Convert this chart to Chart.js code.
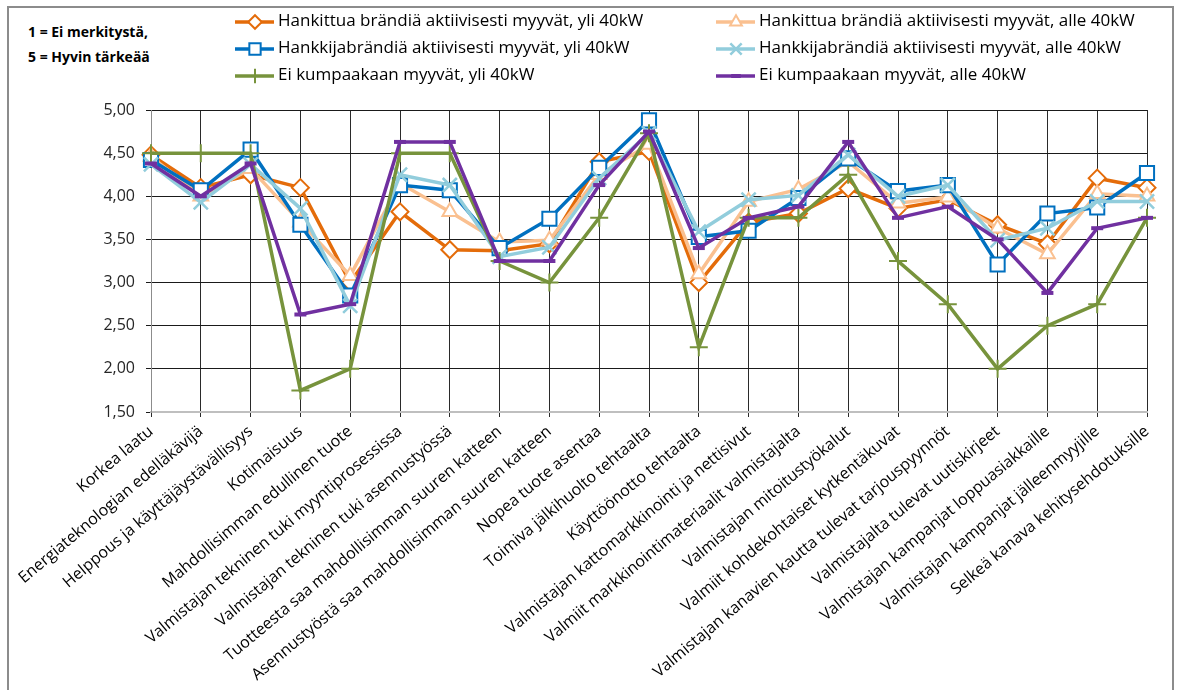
<!DOCTYPE html>
<html>
<head>
<meta charset="utf-8">
<script src="https://cdn.jsdelivr.net/npm/chart.js@4/dist/chart.umd.min.js"></script>
<style>
  html, body { margin: 0; padding: 0; background: #fff; overflow: hidden; }
  #wrap { position: absolute; left: 0; top: 0; width: 1180px; height: 690px; }
  #frame { position: absolute; left: 7px; top: 6px; width: 1167px; height: 700px; border: 2px solid #8c8c8c; box-sizing: border-box; }
  #note { position: absolute; left: 28px; top: 19px; font: bold 14px "Open Sans", "Liberation Sans", sans-serif; line-height: 25px; color: #000; }
  canvas { position: absolute; left: 0; top: 0; }
</style>
</head>
<body>
<div id="wrap">
  <div id="frame"></div>
  <div id="note">1 = Ei merkitystä,<br>5 = Hyvin tärkeää</div>
  <canvas id="c" width="1180" height="690"></canvas>
</div>
<script>
const categories = [
  'Korkea laatu',
  'Energiateknologian edelläkävijä',
  'Helppous ja käyttäjäystävällisyys',
  'Kotimaisuus',
  'Mahdollisimman edullinen tuote',
  'Valmistajan tekninen tuki myyntiprosessissa',
  'Valmistajan tekninen tuki asennustyössä',
  'Tuotteesta saa mahdollisimman suuren katteen',
  'Asennustyöstä saa mahdollisimman suuren katteen',
  'Nopea tuote asentaa',
  'Toimiva jälkihuolto tehtaalta',
  'Käyttöönotto tehtaalta',
  'Valmistajan kattomarkkinointi ja nettisivut',
  'Valmiit markkinointimateriaalit valmistajalta',
  'Valmistajan mitoitustyökalut',
  'Valmiit kohdekohtaiset kytkentäkuvat',
  'Valmistajan kanavien kautta tulevat tarjouspyynnöt',
  'Valmistajalta tulevat uutiskirjeet',
  'Valmistajan kampanjat loppuasiakkaille',
  'Valmistajan kampanjat jälleenmyyjille',
  'Selkeä kanava kehitysehdotuksille'
];

const hankittuaYli   = [4.48, 4.10, 4.25, 4.10, 3.00, 3.82, 3.38, 3.37, 3.45, 4.40, 4.52, 3.00, 3.70, 3.80, 4.09, 3.86, 3.96, 3.67, 3.45, 4.21, 4.10];
const hankittuaAlle  = [4.46, 4.00, 4.32, 3.70, 3.08, 4.15, 3.82, 3.47, 3.49, 4.25, 4.60, 3.10, 3.94, 4.08, 4.40, 3.92, 3.99, 3.63, 3.33, 4.03, 4.00];
const hankkijaYli    = [4.42, 4.07, 4.54, 3.67, 2.85, 4.13, 4.07, 3.40, 3.74, 4.33, 4.88, 3.53, 3.60, 3.98, 4.44, 4.06, 4.13, 3.21, 3.80, 3.87, 4.27];
const hankkijaAlle   = [4.37, 3.93, 4.37, 3.86, 2.73, 4.25, 4.13, 3.30, 3.41, 4.21, 4.73, 3.59, 3.96, 4.01, 4.48, 4.00, 4.13, 3.49, 3.63, 3.94, 3.94];
const eiKumpaakaanYli  = [4.50, 4.50, 4.50, 1.75, 2.00, 4.50, 4.50, 3.25, 3.00, 3.75, 4.73, 2.25, 3.75, 3.75, 4.25, 3.25, 2.75, 2.00, 2.50, 2.75, 3.75];
const eiKumpaakaanAlle = [4.38, 4.00, 4.38, 2.63, 2.75, 4.63, 4.63, 3.25, 3.25, 4.13, 4.75, 3.40, 3.75, 3.88, 4.63, 3.75, 3.88, 3.50, 2.88, 3.63, 3.75];

const seriesNames = [
  'Hankittua brändiä aktiivisesti myyvät, yli 40kW',
  'Hankittua brändiä aktiivisesti myyvät, alle 40kW',
  'Hankkijabrändiä aktiivisesti myyvät, yli 40kW',
  'Hankkijabrändiä aktiivisesti myyvät, alle 40kW',
  'Ei kumpaakaan myyvät, yli 40kW',
  'Ei kumpaakaan myyvät, alle 40kW'
];

const yMin = 1.5, yMax = 5, yStep = 0.5;

const FONT = '"Open Sans", "Liberation Sans", sans-serif';

function series(i, data, color, style, radius, fill, pbw) {
  return {
    label: seriesNames[i],
    data: data,
    borderColor: color,
    backgroundColor: color,
    borderWidth: 3.5,
    tension: 0,
    pointStyle: style,
    pointRadius: radius,
    pointHoverRadius: radius,
    pointBackgroundColor: fill,
    pointBorderColor: color,
    pointBorderWidth: pbw,
    order: 6 - i
  };
}

const datasets = [
  series(0, hankittuaYli,   '#E46C0A', 'rectRot',  8.5, '#ffffff', 2),
  series(1, hankittuaAlle,  '#FAC090', 'triangle', 8.5, '#ffffff', 2),
  series(2, hankkijaYli,    '#0070C0', 'rect',     10,  '#ffffff', 2),
  series(3, hankkijaAlle,   '#92CDDC', 'crossRot', 10,  '#92CDDC', 2.5),
  series(4, eiKumpaakaanYli,  '#77933C', 'cross',  9,   '#77933C', 2),
  series(5, eiKumpaakaanAlle, '#7030A0', 'line',   6,   '#7030A0', 4)
];

// Two-column legend above the plot, row by row in series order
const legendColumns = [235, 716];
const legendRows = [22, 49, 76];
const legendPlugin = {
  id: 'gridLegend',
  afterDraw(chart) {
    const ctx = chart.ctx;
    ctx.save();
    chart.data.datasets.forEach((ds, i) => {
      const x0 = legendColumns[i % 2];
      const y = legendRows[Math.floor(i / 2)];
      ctx.strokeStyle = ds.borderColor;
      ctx.lineWidth = 3.5;
      ctx.beginPath();
      ctx.moveTo(x0, y);
      ctx.lineTo(x0 + 39, y);
      ctx.stroke();
      ctx.fillStyle = ds.pointBackgroundColor;
      ctx.strokeStyle = ds.pointBorderColor;
      ctx.lineWidth = ds.pointBorderWidth;
      Chart.helpers.drawPoint(ctx, {
        pointStyle: ds.pointStyle,
        radius: ds.pointRadius * 0.8,
        rotation: 0,
        borderWidth: ds.pointBorderWidth
      }, x0 + 20, y);
      ctx.fillStyle = '#000';
      ctx.font = '17px ' + FONT;
      ctx.textBaseline = 'middle';
      ctx.textAlign = 'left';
      ctx.fillText(ds.label, x0 + 43, y - 1);
    });
    ctx.restore();
  }
};

new Chart(document.getElementById('c'), {
  type: 'line',
  data: { labels: categories, datasets: datasets },
  plugins: [legendPlugin],
  options: {
    responsive: false,
    animation: false,
    events: [],
    layout: { padding: { left: 20, right: 33, top: 110, bottom: 0 } },
    plugins: { legend: { display: false }, tooltip: { enabled: false } },
    scales: {
      x: {
        type: 'category',
        offset: false,
        afterFit(scale) { scale.height = 278; },
        grid: { color: '#2a2a2a', lineWidth: 1, tickLength: 5, drawTicks: true },
        border: { color: '#bfbfbf', width: 2 },
        ticks: {
          autoSkip: false,
          maxRotation: 40,
          minRotation: 40,
          padding: 5,
          color: '#000',
          font: { family: FONT, size: 16 }
        }
      },
      y: {
        min: yMin,
        max: yMax,
        afterFit(scale) { scale.width = 131; },
        grid: { color: '#1a1a1a', lineWidth: 1, tickLength: 5 },
        border: { color: '#8c8c8c', width: 1 },
        ticks: {
          stepSize: yStep,
          padding: 11,
          color: '#262626',
          font: { family: FONT, size: 16 },
          callback: v => v.toFixed(2).replace('.', ',')
        }
      }
    }
  }
});
</script>
</body>
</html>
